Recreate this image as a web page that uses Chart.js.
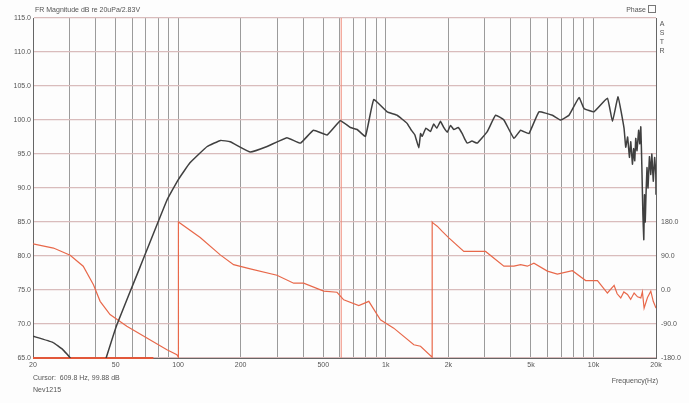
<!DOCTYPE html>
<html lang="en">
<head>
    <meta charset="UTF-8">
    <title>FR Magnitude</title>
    <script src="https://cdn.jsdelivr.net/npm/chart.js"></script>
    <style>
        body { margin: 0; background: #fdfdfd; }
    </style>
</head>
<body>
    <canvas id="frChart" width="689" height="403"></canvas>

    <script>
        // magnitude curve (dB, left axis)
        var magFreq = [20, 24.9, 27.9, 30.2, 33.7, 37.7, 42.1, 45, 50.7, 65.6, 88.3, 100, 114, 138, 160, 178, 222, 268, 334, 388, 448, 521, 604, 675, 728, 798, 875, 1015, 1134, 1267, 1320, 1380, 1442, 1470, 1497, 1560, 1641, 1700, 1760, 1834, 1900, 1976, 2050, 2126, 2230, 2334, 2400, 2468, 2600, 2757, 3080, 3378, 3703, 4138, 4458, 4887, 5463, 6340, 6950, 7620, 8517, 9003, 10060, 11670, 12340, 13130, 14030, 14300, 14600, 14900, 15120, 15400, 15600, 15800, 15980, 16200, 16500, 16700, 16900, 17100, 17300, 17470, 17600, 17750, 17860, 18100, 18300, 18600, 18880, 19100, 19400, 19700, 19960, 20000];
        var magDb = [68.2, 67.3, 66.2, 65, 62, 60, 62, 65, 69.9, 78.4, 88.2, 91.2, 93.7, 96.1, 97.0, 96.8, 95.3, 96.1, 97.4, 96.6, 98.5, 97.8, 99.9, 98.9, 98.6, 97.6, 103.0, 101.2, 100.7, 99.5, 98.6, 97.8, 95.9, 98.0, 97.6, 98.8, 98.3, 99.4, 98.8, 99.8, 98.9, 98.2, 99.2, 98.6, 98.9, 98.0, 97.2, 96.6, 96.9, 96.6, 98.3, 100.7, 100.0, 97.3, 98.5, 98.0, 101.2, 100.7, 100.0, 100.7, 103.3, 101.7, 101.2, 103.2, 99.8, 103.4, 98.8, 96.0, 97.5, 94.5, 96.8, 93.5, 95.8, 94.0, 97.3, 95.5, 98.5, 96.5, 99.0, 93.0, 86.0, 82.4, 89.0, 85.0, 88.0, 93.0, 90.0, 94.6, 92.0, 95.0, 91.0, 94.5, 92.0, 89.0];

        // phase curve (deg, right axis)
        var phaseFreq = [20, 25.1, 30.2, 34.9, 39.1, 42.1, 47, 56.6, 70.7, 88.3, 98.6, 100.3, 100.3, 127.7, 159.5, 184.9, 222.5, 299, 360, 402, 502, 582, 627, 741, 828, 942, 1092, 1364, 1469, 1672, 1672, 1691, 1768, 1869, 2011, 2375, 3022, 3703, 4138, 4458, 4801, 5168, 5997, 6700, 7914, 9170, 10450, 11670, 12570, 13000, 13530, 14000, 14580, 15100, 15690, 16300, 16900, 17200, 17530, 18200, 18880, 19400, 20000];
        var phaseDeg = [122, 111, 92, 63, 14, -30, -65, -96, -127, -158, -171, -178, 180, 139, 93, 67, 56, 39, 18, 18, -3, -6, -26, -41, -30, -79, -101, -145, -149, -178, 180, 177, 169, 155, 138, 102, 102, 63, 63, 67, 63, 71, 50, 42, 51, 25, 25, -8, 12, -10, -21, -5, -12, -25, -8, -18, -21, -5, -48, -20, -3, -30, -48];

        // flat red trace at the bottom left
        var floorFreq = [20, 76];
        var floorDeg = [-180, -180];

        var cursorFreq = 609.8;

        // axes
        var xGrid = [20, 30, 40, 50, 60, 70, 80, 90, 100, 200, 300, 400, 500, 600, 700, 800, 900, 1000, 2000, 3000, 4000, 5000, 6000, 7000, 8000, 9000, 10000, 20000];
        var xLabels = { 20: '20', 50: '50', 100: '100', 200: '200', 500: '500', 1000: '1k', 2000: '2k', 5000: '5k', 10000: '10k', 20000: '20k' };
        var dbMin = 65, dbMax = 115, dbStep = 5;
        var phMin = -180, phMax = 720, phStep = 90, phLabelMax = 180;

        function pts(xs, ys) {
            return xs.map(function (x, i) { return { x: x, y: ys[i] }; });
        }

        var labelFont = { family: 'Liberation Sans', size: 7 };

        // extra text around the plot
        var textPlugin = {
            id: 'texts',
            afterDraw: function (chart) {
                var c = chart.ctx, a = chart.chartArea;
                c.save();
                c.fillStyle = '#555';
                c.font = '7px "Liberation Sans"';
                c.textBaseline = 'middle';
                c.textAlign = 'left';
                c.fillText('FR Magnitude dB re 20uPa/2.83V', a.left + 2, 10);
                c.fillText('Cursor:  609.8 Hz, 99.88 dB', a.left, 378);
                c.fillText('Nev1215', a.left, 390);
                c.textAlign = 'right';
                c.fillText('Frequency(Hz)', a.right + 2, 381);
                c.fillText('Phase', a.right - 10, 10);
                c.strokeStyle = '#777';
                c.lineWidth = 1;
                c.strokeRect(a.right - 7.5, 5.5, 7, 7);
                c.textAlign = 'center';
                ['A', 'S', 'T', 'R'].forEach(function (t, i) {
                    c.fillText(t, a.right + 6, 24 + i * 9);
                });
                c.restore();
            }
        };

        var ctx = document.getElementById('frChart').getContext('2d');
        var myChart = new Chart(ctx, {
            type: 'line',
            data: {
                datasets: [{
                    label: 'Cursor',
                    data: [{ x: cursorFreq, y: dbMin }, { x: cursorFreq, y: dbMax }],
                    borderColor: '#f08a78',
                    borderWidth: 1,
                    yAxisID: 'y',
                    order: 3
                }, {
                    label: 'Floor',
                    data: pts(floorFreq, floorDeg),
                    borderColor: '#e2583a',
                    borderWidth: 2,
                    yAxisID: 'y2',
                    clip: 3,
                    order: 2
                }, {
                    label: 'Phase',
                    data: pts(phaseFreq, phaseDeg),
                    borderColor: '#e8684a',
                    borderWidth: 1.2,
                    tension: 0,
                    yAxisID: 'y2',
                    order: 1
                }, {
                    label: 'Magnitude',
                    data: pts(magFreq, magDb),
                    borderColor: '#404040',
                    borderWidth: 1.5,
                    tension: 0.1,
                    yAxisID: 'y',
                    order: 0
                }]
            },
            options: {
                responsive: false,
                animation: false,
                layout: { padding: { top: 18, left: 0, right: 0, bottom: 0 } },
                elements: { point: { radius: 0 } },
                plugins: { legend: { display: false }, tooltip: { enabled: false } },
                scales: {
                    x: {
                        type: 'logarithmic',
                        min: 20,
                        max: 20000,
                        afterBuildTicks: function (s) {
                            s.ticks = xGrid.map(function (v) { return { value: v }; });
                        },
                        afterFit: function (s) { s.height = 45; },
                        ticks: {
                            autoSkip: false,
                            maxRotation: 0,
                            padding: 3,
                            color: '#555',
                            font: labelFont,
                            callback: function (v) { return xLabels[v] || ''; }
                        },
                        grid: { color: 'rgba(90,90,90,0.6)', drawTicks: false },
                        border: { display: true, color: '#666', width: 1 }
                    },
                    y: {
                        position: 'left',
                        min: dbMin,
                        max: dbMax,
                        afterFit: function (s) { s.width = 33; },
                        ticks: {
                            stepSize: dbStep,
                            padding: 2,
                            color: '#555',
                            font: labelFont,
                            callback: function (v) { return v.toFixed(1); }
                        },
                        grid: { color: '#d9bcbc', lineWidth: 1.2, drawTicks: false },
                        border: { display: true, color: '#666', width: 1 }
                    },
                    y2: {
                        position: 'right',
                        min: phMin,
                        max: phMax,
                        afterFit: function (s) { s.width = 33; },
                        ticks: {
                            stepSize: phStep,
                            padding: 5,
                            color: '#555',
                            font: labelFont,
                            callback: function (v) { return v <= phLabelMax ? v.toFixed(1) : ''; }
                        },
                        grid: { display: false, drawTicks: false },
                        border: { display: true, color: '#666', width: 1 }
                    }
                }
            },
            plugins: [textPlugin]
        });
    </script>
</body>
</html>
